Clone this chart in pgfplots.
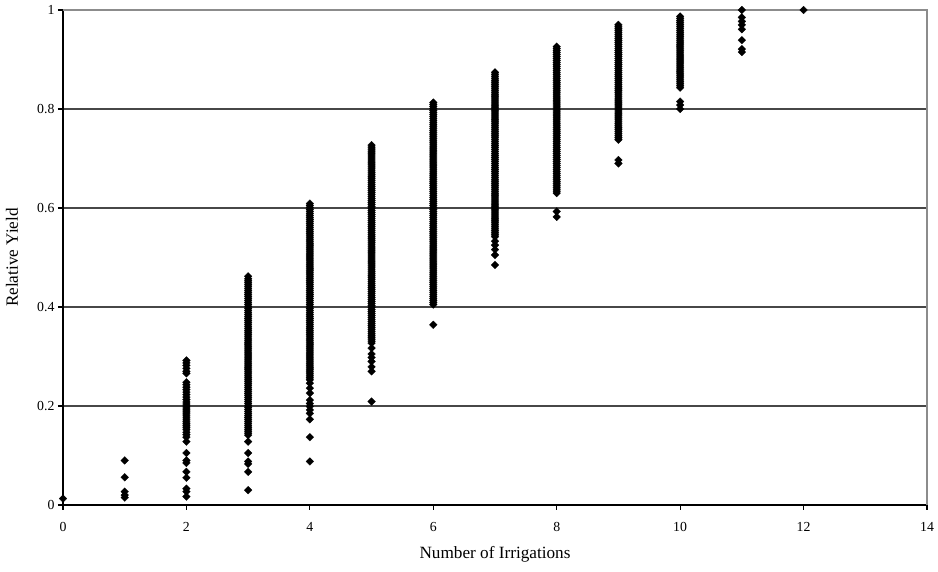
\documentclass[border=0pt]{standalone}
\usepackage{pgfplots}
\pgfplotsset{compat=1.18}
\usepackage{fontspec}
\setmainfont{Liberation Serif}
\begin{document}
\begin{tikzpicture}
\path (-63pt,-67pt) rectangle (875pt,505pt);
\begin{axis}[
  at={(0,0)}, anchor=south west,
  scale only axis, width=864pt, height=495pt,
  xmin=0, xmax=14, ymin=0, ymax=1,
  xtick={0,2,4,6,8,10,12,14},
  ytick={0,0.2,0.4,0.6,0.8,1},
  yticklabels={0,0.2,0.4,0.6,0.8,1},
  axis x line*=bottom, axis y line*=left,
  axis line style={black, line width=1.6pt, -},
  ymajorgrids, major grid style={line width=1.2pt, color=black!72},
  tick align=outside, major tick length=5pt, tick style={black, line width=1.2pt},
  ticklabel style={font=\fontsize{13.8}{15}\selectfont},
  xticklabel style={yshift=-9pt},
  /pgf/number format/assume math mode=true,
  xlabel={Number of Irrigations}, ylabel={Relative Yield},
  label style={font=\fontsize{17.2}{20}\selectfont},
  x label style={at={(axis description cs:0.5,-0.099)}, anchor=center},
  y label style={at={(axis description cs:-0.059,0.5)}, anchor=center},
  clip=false,
  pts/.style={only marks, mark=square*, mark size=2.75pt,
    mark options={rotate=45, fill=black, draw=black, line width=0.2pt}},
]
% column 0, 1, 11, 12
\addplot[pts] coordinates {(0,0.013)};
\addplot[pts] coordinates {(1,0.090)(1,0.056)(1,0.027)(1,0.020)(1,0.015)};
\addplot[pts] coordinates {(11,1.000)(11,0.985)(11,0.977)(11,0.970)(11,0.961)(11,0.939)(11,0.921)(11,0.915)};
\addplot[pts] coordinates {(12,1.000)};
% column 2
\addplot[pts] coordinates {
(2,0.292)(2,0.287)(2,0.282)(2,0.276)(2,0.270)(2,0.266)(2,0.248)(2,0.243)(2,0.238)(2,0.233)
(2,0.228)(2,0.223)(2,0.218)(2,0.213)(2,0.208)(2,0.204)(2,0.200)(2,0.196)(2,0.192)(2,0.188)
(2,0.184)(2,0.180)(2,0.176)(2,0.172)(2,0.168)(2,0.164)(2,0.160)(2,0.156)(2,0.152)(2,0.147)
(2,0.142)(2,0.137)(2,0.128)(2,0.105)(2,0.090)(2,0.085)(2,0.067)(2,0.055)(2,0.033)(2,0.027)(2,0.017)};
% column 3
\addplot[pts] coordinates {
(3,0.141)(3,0.145)(3,0.149)(3,0.153)(3,0.157)(3,0.161)(3,0.165)(3,0.169)(3,0.173)(3,0.177)
(3,0.181)(3,0.185)(3,0.189)(3,0.193)(3,0.197)(3,0.201)(3,0.205)(3,0.209)(3,0.213)(3,0.217)
(3,0.221)(3,0.225)(3,0.229)(3,0.233)(3,0.237)(3,0.241)(3,0.245)(3,0.249)(3,0.253)(3,0.257)
(3,0.261)(3,0.265)(3,0.269)(3,0.273)(3,0.277)(3,0.281)(3,0.285)(3,0.289)(3,0.293)(3,0.297)
(3,0.301)(3,0.305)(3,0.309)(3,0.313)(3,0.317)(3,0.321)(3,0.325)(3,0.329)(3,0.333)(3,0.337)
(3,0.341)(3,0.345)(3,0.349)(3,0.353)(3,0.357)(3,0.361)(3,0.365)(3,0.369)(3,0.373)(3,0.377)
(3,0.381)(3,0.385)(3,0.389)(3,0.393)(3,0.397)(3,0.401)(3,0.405)(3,0.409)(3,0.413)(3,0.417)
(3,0.421)(3,0.425)(3,0.429)(3,0.433)(3,0.437)(3,0.441)(3,0.445)(3,0.449)(3,0.453)(3,0.457)(3,0.462)
(3,0.128)(3,0.105)(3,0.088)(3,0.083)(3,0.067)(3,0.030)};
% column 4
\addplot[pts] coordinates {
(4,0.253)(4,0.257)(4,0.261)(4,0.265)(4,0.269)(4,0.273)(4,0.277)(4,0.281)(4,0.285)(4,0.289)
(4,0.293)(4,0.297)(4,0.301)(4,0.305)(4,0.309)(4,0.313)(4,0.317)(4,0.321)(4,0.325)(4,0.329)
(4,0.333)(4,0.337)(4,0.341)(4,0.345)(4,0.349)(4,0.353)(4,0.357)(4,0.361)(4,0.365)(4,0.369)
(4,0.373)(4,0.377)(4,0.381)(4,0.385)(4,0.389)(4,0.393)(4,0.397)(4,0.401)(4,0.405)(4,0.409)
(4,0.413)(4,0.417)(4,0.421)(4,0.425)(4,0.429)(4,0.433)(4,0.437)(4,0.441)(4,0.445)(4,0.449)
(4,0.453)(4,0.457)(4,0.461)(4,0.465)(4,0.469)(4,0.473)(4,0.477)(4,0.481)(4,0.485)(4,0.489)
(4,0.493)(4,0.497)(4,0.501)(4,0.505)(4,0.509)(4,0.513)(4,0.517)(4,0.521)(4,0.525)(4,0.529)
(4,0.533)(4,0.537)(4,0.541)(4,0.545)(4,0.549)(4,0.553)(4,0.557)(4,0.561)(4,0.565)(4,0.569)
(4,0.573)(4,0.577)(4,0.581)(4,0.585)(4,0.589)(4,0.593)(4,0.597)(4,0.601)(4,0.605)(4,0.609)
(4,0.246)(4,0.236)(4,0.226)(4,0.212)(4,0.205)(4,0.199)(4,0.192)(4,0.185)(4,0.173)(4,0.137)(4,0.088)};
% column 5
\addplot[pts] coordinates {
(5,0.327)(5,0.331)(5,0.335)(5,0.339)(5,0.343)(5,0.347)(5,0.351)(5,0.355)(5,0.359)(5,0.363)
(5,0.367)(5,0.371)(5,0.375)(5,0.379)(5,0.383)(5,0.387)(5,0.391)(5,0.395)(5,0.399)(5,0.403)
(5,0.407)(5,0.411)(5,0.415)(5,0.419)(5,0.423)(5,0.427)(5,0.431)(5,0.435)(5,0.439)(5,0.443)
(5,0.447)(5,0.451)(5,0.455)(5,0.459)(5,0.463)(5,0.467)(5,0.471)(5,0.475)(5,0.479)(5,0.483)
(5,0.487)(5,0.491)(5,0.495)(5,0.499)(5,0.503)(5,0.507)(5,0.511)(5,0.515)(5,0.519)(5,0.523)
(5,0.527)(5,0.531)(5,0.535)(5,0.539)(5,0.543)(5,0.547)(5,0.551)(5,0.555)(5,0.559)(5,0.563)
(5,0.567)(5,0.571)(5,0.575)(5,0.579)(5,0.583)(5,0.587)(5,0.591)(5,0.595)(5,0.599)(5,0.603)
(5,0.607)(5,0.611)(5,0.615)(5,0.619)(5,0.623)(5,0.627)(5,0.631)(5,0.635)(5,0.639)(5,0.643)
(5,0.647)(5,0.651)(5,0.655)(5,0.659)(5,0.663)(5,0.667)(5,0.671)(5,0.675)(5,0.679)(5,0.683)
(5,0.687)(5,0.691)(5,0.695)(5,0.699)(5,0.703)(5,0.707)(5,0.711)(5,0.715)(5,0.719)(5,0.723)(5,0.727)
(5,0.317)(5,0.305)(5,0.298)(5,0.290)(5,0.279)(5,0.270)(5,0.209)};
% column 6
\addplot[pts] coordinates {
(6,0.405)(6,0.409)(6,0.413)(6,0.417)(6,0.421)(6,0.425)(6,0.429)(6,0.433)(6,0.437)(6,0.441)
(6,0.445)(6,0.449)(6,0.453)(6,0.457)(6,0.461)(6,0.465)(6,0.469)(6,0.473)(6,0.477)(6,0.481)
(6,0.485)(6,0.489)(6,0.493)(6,0.497)(6,0.501)(6,0.505)(6,0.509)(6,0.513)(6,0.517)(6,0.521)
(6,0.525)(6,0.529)(6,0.533)(6,0.537)(6,0.541)(6,0.545)(6,0.549)(6,0.553)(6,0.557)(6,0.561)
(6,0.565)(6,0.569)(6,0.573)(6,0.577)(6,0.581)(6,0.585)(6,0.589)(6,0.593)(6,0.597)(6,0.601)
(6,0.605)(6,0.609)(6,0.613)(6,0.617)(6,0.621)(6,0.625)(6,0.629)(6,0.633)(6,0.637)(6,0.641)
(6,0.645)(6,0.649)(6,0.653)(6,0.657)(6,0.661)(6,0.665)(6,0.669)(6,0.673)(6,0.677)(6,0.681)
(6,0.685)(6,0.689)(6,0.693)(6,0.697)(6,0.701)(6,0.705)(6,0.709)(6,0.713)(6,0.717)(6,0.721)
(6,0.725)(6,0.729)(6,0.733)(6,0.737)(6,0.741)(6,0.745)(6,0.749)(6,0.753)(6,0.757)(6,0.761)
(6,0.765)(6,0.769)(6,0.773)(6,0.777)(6,0.781)(6,0.785)(6,0.789)(6,0.793)(6,0.797)(6,0.801)
(6,0.805)(6,0.809)(6,0.813)(6,0.364)};
% column 7
\addplot[pts] coordinates {
(7,0.542)(7,0.546)(7,0.550)(7,0.554)(7,0.558)(7,0.562)(7,0.566)(7,0.570)(7,0.574)(7,0.578)
(7,0.582)(7,0.586)(7,0.590)(7,0.594)(7,0.598)(7,0.602)(7,0.606)(7,0.610)(7,0.614)(7,0.618)
(7,0.622)(7,0.626)(7,0.630)(7,0.634)(7,0.638)(7,0.642)(7,0.646)(7,0.650)(7,0.654)(7,0.658)
(7,0.662)(7,0.666)(7,0.670)(7,0.674)(7,0.678)(7,0.682)(7,0.686)(7,0.690)(7,0.694)(7,0.698)
(7,0.702)(7,0.706)(7,0.710)(7,0.714)(7,0.718)(7,0.722)(7,0.726)(7,0.730)(7,0.734)(7,0.738)
(7,0.742)(7,0.746)(7,0.750)(7,0.754)(7,0.758)(7,0.762)(7,0.766)(7,0.770)(7,0.774)(7,0.778)
(7,0.782)(7,0.786)(7,0.790)(7,0.794)(7,0.798)(7,0.802)(7,0.806)(7,0.810)(7,0.814)(7,0.818)
(7,0.822)(7,0.826)(7,0.830)(7,0.834)(7,0.838)(7,0.842)(7,0.846)(7,0.850)(7,0.854)(7,0.858)
(7,0.862)(7,0.866)(7,0.870)(7,0.874)
(7,0.533)(7,0.525)(7,0.516)(7,0.505)(7,0.485)};
% column 8
\addplot[pts] coordinates {
(8,0.630)(8,0.634)(8,0.638)(8,0.642)(8,0.646)(8,0.650)(8,0.654)(8,0.658)(8,0.662)(8,0.666)
(8,0.670)(8,0.674)(8,0.678)(8,0.682)(8,0.686)(8,0.690)(8,0.694)(8,0.698)(8,0.702)(8,0.706)
(8,0.710)(8,0.714)(8,0.718)(8,0.722)(8,0.726)(8,0.730)(8,0.734)(8,0.738)(8,0.742)(8,0.746)
(8,0.750)(8,0.754)(8,0.758)(8,0.762)(8,0.766)(8,0.770)(8,0.774)(8,0.778)(8,0.782)(8,0.786)
(8,0.790)(8,0.794)(8,0.798)(8,0.802)(8,0.806)(8,0.810)(8,0.814)(8,0.818)(8,0.822)(8,0.826)
(8,0.830)(8,0.834)(8,0.838)(8,0.842)(8,0.846)(8,0.850)(8,0.854)(8,0.858)(8,0.862)(8,0.866)
(8,0.870)(8,0.874)(8,0.878)(8,0.882)(8,0.886)(8,0.890)(8,0.894)(8,0.898)(8,0.902)(8,0.906)
(8,0.910)(8,0.914)(8,0.918)(8,0.922)(8,0.926)(8,0.593)(8,0.582)};
% column 9
\addplot[pts] coordinates {
(9,0.738)(9,0.742)(9,0.746)(9,0.750)(9,0.754)(9,0.758)(9,0.762)(9,0.766)(9,0.770)(9,0.774)
(9,0.778)(9,0.782)(9,0.786)(9,0.790)(9,0.794)(9,0.798)(9,0.802)(9,0.806)(9,0.810)(9,0.814)
(9,0.818)(9,0.822)(9,0.826)(9,0.830)(9,0.834)(9,0.838)(9,0.842)(9,0.846)(9,0.850)(9,0.854)
(9,0.858)(9,0.862)(9,0.866)(9,0.870)(9,0.874)(9,0.878)(9,0.882)(9,0.886)(9,0.890)(9,0.894)
(9,0.898)(9,0.902)(9,0.906)(9,0.910)(9,0.914)(9,0.918)(9,0.922)(9,0.926)(9,0.930)(9,0.934)
(9,0.938)(9,0.942)(9,0.946)(9,0.950)(9,0.954)(9,0.958)(9,0.962)(9,0.966)(9,0.970)
(9,0.697)(9,0.690)};
% column 10
\addplot[pts] coordinates {
(10,0.843)(10,0.847)(10,0.851)(10,0.855)(10,0.859)(10,0.863)(10,0.867)(10,0.871)(10,0.875)(10,0.879)
(10,0.883)(10,0.887)(10,0.891)(10,0.895)(10,0.899)(10,0.903)(10,0.907)(10,0.911)(10,0.915)(10,0.919)
(10,0.923)(10,0.927)(10,0.931)(10,0.935)(10,0.939)(10,0.943)(10,0.947)(10,0.951)(10,0.955)(10,0.959)
(10,0.963)(10,0.967)(10,0.971)(10,0.975)(10,0.979)(10,0.983)(10,0.987)
(10,0.815)(10,0.808)(10,0.800)};
\draw[black!45, line width=1.2pt] (rel axis cs:0,1) -- (rel axis cs:1,1) -- (rel axis cs:1,0);
\end{axis}
\end{tikzpicture}
\end{document}
